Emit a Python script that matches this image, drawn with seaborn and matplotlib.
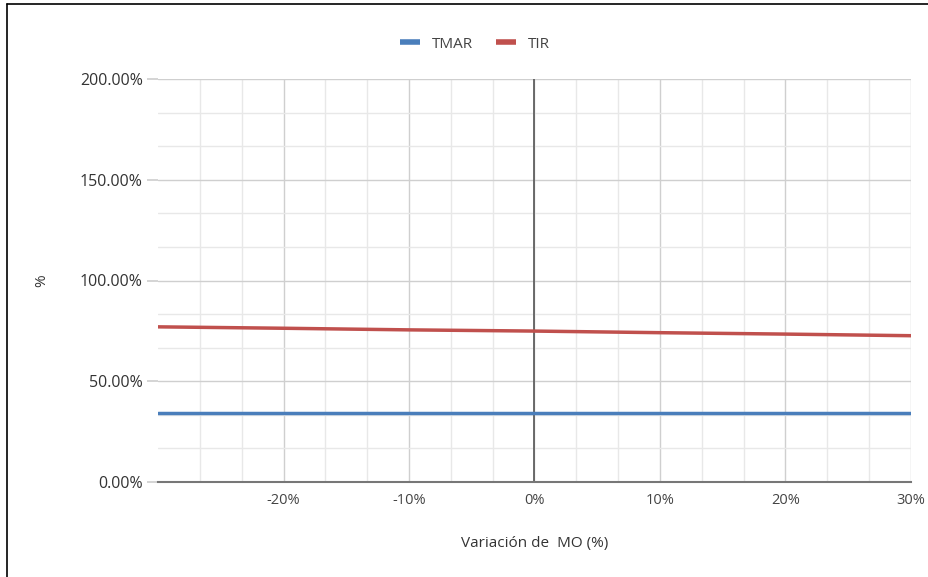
import numpy as np
import pandas as pd
import matplotlib
matplotlib.use("Agg")
import matplotlib.pyplot as plt
from matplotlib.ticker import MultipleLocator, FuncFormatter
from matplotlib.lines import Line2D
import seaborn as sns

# --- datos ---
variacion = [-30, -20, -10, 0, 10, 20, 30]          # variacion de MO (%)
tmar = [34.0, 34.0, 34.0, 34.0, 34.0, 34.0, 34.0]   # %
tir = [77.0, 76.3, 75.5, 74.9, 74.1, 73.4, 72.6]    # %

df = pd.DataFrame({
    'variacion': variacion * 2,
    'valor': tmar + tir,
    'serie': ['TMAR'] * len(tmar) + ['TIR'] * len(tir),
})

sns.set_theme(style="white")
plt.rcParams['font.family'] = ['Open Sans', 'DejaVu Sans']

colores = {'TMAR': '#4a7ebb', 'TIR': '#c0504d'}

fig = plt.figure(figsize=(9.29, 5.77), dpi=100)
ax = fig.add_axes([158 / 929, 95 / 577, (911 - 158) / 929, (482 - 79) / 577])

# rejilla
ax.xaxis.set_major_locator(MultipleLocator(10))
ax.xaxis.set_minor_locator(MultipleLocator(10 / 3))
ax.yaxis.set_major_locator(MultipleLocator(50))
ax.yaxis.set_minor_locator(MultipleLocator(50 / 3))
ax.grid(which='major', color='#cfcfcf', linewidth=1.0, zorder=0)
ax.grid(which='minor', color='#e8e8e8', linewidth=1.0, zorder=0)
ax.set_axisbelow(True)

sns.lineplot(data=df, x='variacion', y='valor', hue='serie', palette=colores,
             linewidth=2.5, ax=ax, legend=False, zorder=3)

# eje vertical en 0
ax.axvline(0, color='#555555', linewidth=1.2, zorder=2)

ax.set_xlim(-30, 30)
ax.set_ylim(0, 200)

for s in ['top', 'right', 'left']:
    ax.spines[s].set_visible(False)
ax.spines['bottom'].set_color('#777777')
ax.spines['bottom'].set_linewidth(1.5)

ax.xaxis.set_major_formatter(FuncFormatter(lambda v, p: '' if v <= -30 else f'{v:.0f}%'))
ax.yaxis.set_major_formatter(FuncFormatter(lambda v, p: f'{v:.2f}%'))
ax.tick_params(axis='x', which='both', length=0, labelsize=10.5, labelcolor='#444444', pad=8)
ax.tick_params(axis='y', which='major', length=8, color='#cfcfcf', labelsize=11.5,
               labelcolor='#333333', pad=3, left=True)
ax.tick_params(axis='y', which='minor', length=0)

# sin linea vertical en el borde izquierdo
fig.canvas.draw()
for linea, pos in zip(ax.get_xgridlines(), ax.get_xticks()):
    if pos <= -30:
        linea.set_visible(False)

ax.set_xlabel('Variación de  MO (%)', fontsize=11, color='#333333', labelpad=20)
ax.set_ylabel('%', fontsize=11, color='#333333', labelpad=22)

# leyenda arriba
handles = [Line2D([0], [0], color=colores[k], linewidth=4, solid_capstyle='butt')
           for k in ['TMAR', 'TIR']]
fig.legend(handles, ['TMAR', 'TIR'], loc='center', bbox_to_anchor=(475 / 929, 1 - 44 / 577),
           ncol=2, frameon=False, fontsize=11, handlelength=1.3, columnspacing=1.5,
           handletextpad=0.8, labelcolor='#444444')

# marco de la imagen (solo arriba e izquierda)
fig.add_artist(Line2D([7 / 929, 1], [1 - 4 / 577, 1 - 4 / 577], color='black', linewidth=1.2))
fig.add_artist(Line2D([7 / 929, 7 / 929], [0, 1 - 4 / 577], color='black', linewidth=1.2))

fig.savefig('out.png', dpi=100, facecolor='white')
